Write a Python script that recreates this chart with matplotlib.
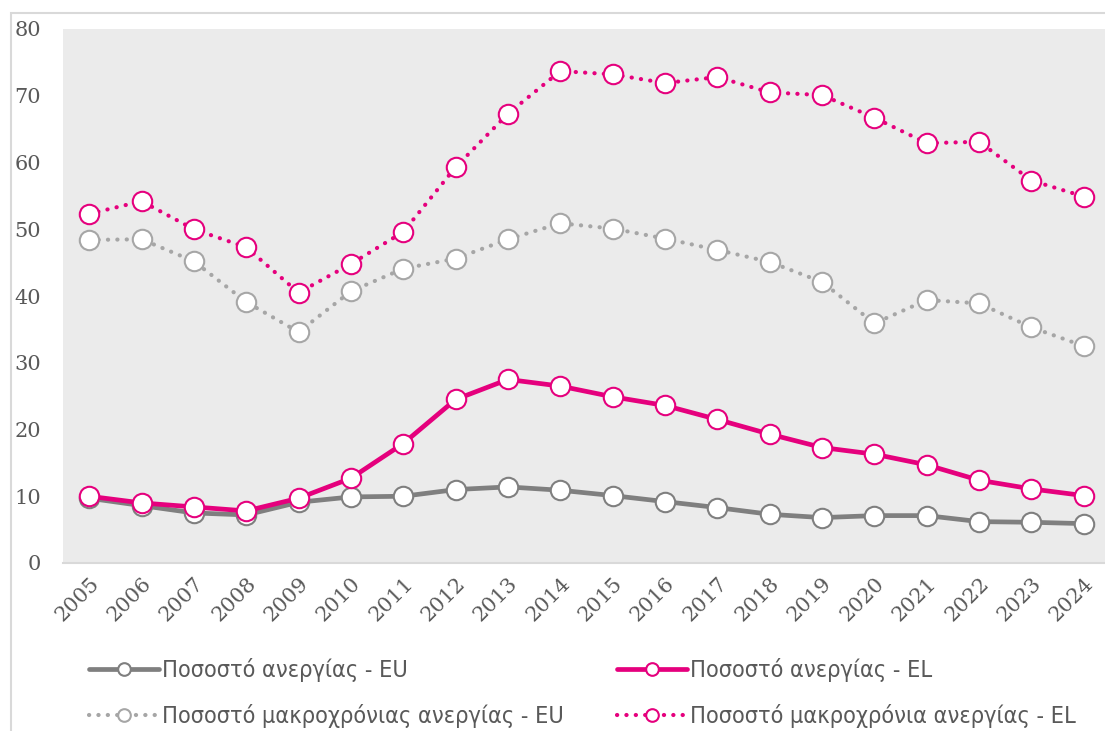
import matplotlib.pyplot as plt
from matplotlib.patches import Rectangle
from matplotlib import font_manager

years = list(range(2005, 2025))

# unemployment rate (%)
unemp_eu = [9.7, 8.6, 7.5, 7.2, 9.1, 9.9, 10.0, 11.0, 11.4, 10.9,
            10.1, 9.2, 8.3, 7.3, 6.8, 7.1, 7.1, 6.2, 6.1, 5.9]
unemp_el = [10.0, 9.0, 8.4, 7.8, 9.7, 12.7, 17.9, 24.5, 27.5, 26.5,
            24.9, 23.6, 21.5, 19.3, 17.3, 16.3, 14.7, 12.4, 11.1, 10.1]
# long-term unemployment share (%)
longterm_eu = [48.4, 48.5, 45.2, 39.1, 34.6, 40.7, 44.1, 45.6, 48.5, 50.9,
               50.1, 48.6, 46.9, 45.1, 42.1, 35.9, 39.4, 38.9, 35.3, 32.5]
longterm_el = [52.3, 54.2, 50.0, 47.3, 40.5, 44.8, 49.6, 59.3, 67.3, 73.7,
               73.2, 71.9, 72.8, 70.5, 70.1, 66.7, 62.9, 63.1, 57.3, 54.9]

labels = ['Ποσοστό ανεργίας - EU', 'Ποσοστό ανεργίας - EL',
          'Ποσοστό μακροχρόνιας ανεργίας - EU', 'Ποσοστό μακροχρόνια ανεργίας - EL']

PINK = '#E5007D'
GRAY = '#7F7F7F'
LGRAY = '#A6A6A6'
TXT = '#595959'

# pick a narrow sans for the legend if the system has one
legend_prop = {'family': 'DejaVu Sans', 'size': 14.5}
for f in font_manager.fontManager.ttflist:
    if f.name == 'DejaVu Sans' and 'ondensed' in f.fname and f.weight in (400, 'normal') \
            and f.style == 'normal':
        legend_prop = {'family': 'DejaVu Sans', 'stretch': 'condensed', 'size': 16.8}
        break
tick_font = 'DejaVu Serif'

fig = plt.figure(figsize=(11.05, 7.31), dpi=100)
ax = fig.add_axes([63/1105, 1 - 563/731, 1047/1105, 534/731])
ax.set_facecolor('#EBEBEB')

# outer chart border
fig.patches.append(Rectangle((11/1105, -0.05), 1.1, 1 - 13/731 + 0.05,
                             transform=fig.transFigure, fill=False,
                             edgecolor='#D9D9D9', linewidth=1.5, zorder=0))

solid = dict(linewidth=3.4, marker='o', markersize=14, markerfacecolor='white',
             markeredgewidth=1.5, solid_capstyle='round')
dotted = dict(linewidth=3.0, marker='o', markersize=14, markerfacecolor='white',
              markeredgewidth=1.5, linestyle=(0, (0.05, 2.2)), dash_capstyle='round')

h1, = ax.plot(years, unemp_eu, color=GRAY, markeredgecolor=GRAY, **solid)
h2, = ax.plot(years, unemp_el, color=PINK, markeredgecolor=PINK, **solid)
h3, = ax.plot(years, longterm_eu, color=LGRAY, markeredgecolor=LGRAY, **dotted)
h4, = ax.plot(years, longterm_el, color=PINK, markeredgecolor=PINK, **dotted)

ax.set_xlim(2004.5, 2024.5)
ax.set_ylim(0, 80)
ax.set_yticks(range(0, 81, 10))
ax.set_xticks(years)
ax.set_xticklabels([str(y) for y in years], rotation=45, ha='right', va='top',
                   rotation_mode='anchor')
ax.tick_params(axis='both', length=0, colors=TXT, labelsize=15)
ax.tick_params(axis='y', pad=16)
ax.tick_params(axis='x', pad=8)
for lab in ax.get_xticklabels() + ax.get_yticklabels():
    lab.set_fontfamily(tick_font)

for side in ['top', 'right', 'left']:
    ax.spines[side].set_visible(False)
ax.spines['bottom'].set_color('#D9D9D9')
ax.spines['bottom'].set_linewidth(1.5)

# two legend columns placed by hand
leg_kw = dict(loc='center left', frameon=False, handlelength=3.0, markerscale=0.65,
              handletextpad=0.15, prop=legend_prop)
for x0, hs, labs in [(68, [h1, h3], [labels[0], labels[2]]),
                     (596, [h2, h4], [labels[1], labels[3]])]:
    for y0, h, lab in zip([670, 716], hs, labs):
        leg = fig.legend([h], [lab], bbox_to_anchor=(x0/1105, 1 - y0/731), **leg_kw)
        leg.get_texts()[0].set_color(TXT)

fig.savefig('out.png', dpi=100)
